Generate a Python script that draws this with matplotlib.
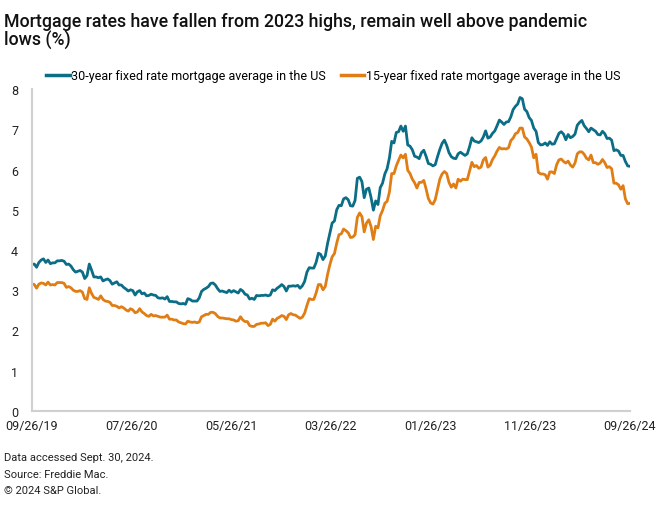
import matplotlib.pyplot as plt
import pandas as pd

# Weekly Freddie Mac averages, 09/26/19 - 09/26/24 (%)
rate_30y = [
    # 2019
    3.64, 3.65, 3.57, 3.69, 3.75, 3.78, 3.69, 3.75, 3.66, 3.68, 3.68, 3.73, 3.73, 3.74,
    # 2020
    3.72, 3.64, 3.65, 3.60, 3.51, 3.45, 3.47, 3.49, 3.45, 3.29, 3.36, 3.65, 3.50,
    3.33, 3.33, 3.31, 3.33, 3.23, 3.26, 3.28, 3.24, 3.15, 3.18, 3.21, 3.13, 3.13,
    3.07, 3.03, 2.98, 3.01, 2.99, 2.88, 2.96, 2.99, 2.91, 2.93, 2.86, 2.87, 2.90,
    2.88, 2.87, 2.81, 2.80, 2.81, 2.78, 2.84, 2.72, 2.72, 2.71, 2.71, 2.67, 2.66, 2.67,
    # 2021
    2.65, 2.79, 2.77, 2.73, 2.73, 2.73, 2.81, 2.97, 3.02, 3.05, 3.09, 3.17,
    3.18, 3.13, 3.04, 2.97, 2.98, 2.96, 2.94, 3.00, 2.95, 2.99, 2.96, 2.93, 3.02,
    2.98, 2.90, 2.88, 2.78, 2.80, 2.77, 2.87, 2.86, 2.87, 2.87, 2.88, 2.86, 2.88, 3.01,
    2.99, 3.05, 3.09, 3.14, 3.09, 2.98, 3.10, 3.10, 3.11, 3.10, 3.12, 3.05, 3.11,
    # 2022
    3.22, 3.45, 3.56, 3.55, 3.55, 3.69, 3.92, 3.89, 3.76, 3.85, 4.16, 4.42, 4.67,
    4.72, 5.00, 5.11, 5.10, 5.27, 5.30, 5.25, 5.10, 5.09, 5.23, 5.78, 5.81, 5.70,
    5.30, 5.51, 5.54, 5.30, 4.99, 5.22, 5.13, 5.55, 5.66, 5.89, 6.02, 6.29, 6.70,
    6.66, 6.92, 6.94, 7.08, 6.95, 7.08, 6.61, 6.58, 6.49, 6.33, 6.31, 6.27, 6.42,
    # 2023
    6.48, 6.33, 6.15, 6.13, 6.09, 6.12, 6.32, 6.50, 6.65, 6.73, 6.60, 6.42, 6.32,
    6.28, 6.27, 6.39, 6.43, 6.39, 6.35, 6.39, 6.57, 6.79, 6.71, 6.69, 6.67, 6.71,
    6.81, 6.96, 6.78, 6.81, 6.90, 6.96, 7.09, 7.23, 7.18, 7.12, 7.18, 7.19, 7.31,
    7.49, 7.57, 7.63, 7.79, 7.76, 7.50, 7.44, 7.29, 7.22, 7.03, 6.95, 6.67, 6.61,
    # 2024
    6.62, 6.66, 6.60, 6.69, 6.63, 6.64, 6.77, 6.90, 6.94, 6.88, 6.74, 6.87, 6.79,
    6.82, 6.88, 7.10, 7.17, 7.22, 7.09, 7.02, 6.94, 7.03, 6.99, 6.95, 6.87, 6.86,
    6.95, 6.89, 6.77, 6.78, 6.73, 6.47, 6.49, 6.46, 6.35, 6.35, 6.20, 6.09, 6.08,
]

rate_15y = [
    # 2019
    3.16, 3.14, 3.05, 3.15, 3.18, 3.17, 3.13, 3.20, 3.13, 3.14, 3.13, 3.19, 3.19, 3.19,
    # 2020
    3.17, 3.07, 3.09, 3.06, 3.00, 2.97, 2.97, 2.99, 2.95, 2.79, 2.77, 3.06, 2.92,
    2.82, 2.80, 2.77, 2.86, 2.77, 2.73, 2.72, 2.70, 2.62, 2.62, 2.60, 2.56, 2.59,
    2.56, 2.51, 2.48, 2.54, 2.51, 2.44, 2.46, 2.54, 2.46, 2.42, 2.37, 2.35, 2.40,
    2.36, 2.37, 2.35, 2.33, 2.33, 2.33, 2.38, 2.28, 2.28, 2.26, 2.26, 2.21, 2.19, 2.17,
    # 2021
    2.16, 2.23, 2.21, 2.20, 2.21, 2.19, 2.21, 2.34, 2.37, 2.40, 2.40, 2.45,
    2.45, 2.42, 2.35, 2.31, 2.31, 2.30, 2.29, 2.29, 2.27, 2.26, 2.23, 2.24, 2.34,
    2.26, 2.22, 2.22, 2.12, 2.10, 2.10, 2.15, 2.16, 2.18, 2.18, 2.19, 2.12, 2.15, 2.28,
    2.23, 2.30, 2.33, 2.37, 2.35, 2.27, 2.39, 2.42, 2.39, 2.38, 2.34, 2.30, 2.33,
    # 2022
    2.43, 2.62, 2.79, 2.77, 2.77, 2.93, 3.14, 3.14, 3.01, 3.09, 3.39, 3.63, 3.83,
    3.91, 4.17, 4.38, 4.40, 4.52, 4.48, 4.43, 4.31, 4.32, 4.38, 4.81, 4.92, 4.83,
    4.45, 4.67, 4.75, 4.58, 4.26, 4.59, 4.55, 4.85, 4.98, 5.16, 5.21, 5.44, 5.90,
    5.90, 6.09, 6.23, 6.36, 6.29, 6.38, 5.98, 5.90, 5.76, 5.67, 5.54, 5.68, 5.68,
    # 2023
    5.73, 5.52, 5.28, 5.17, 5.14, 5.25, 5.51, 5.76, 5.89, 5.95, 5.90, 5.68, 5.56,
    5.64, 5.54, 5.76, 5.71, 5.76, 5.75, 5.75, 5.97, 6.18, 6.07, 6.10, 6.03, 6.06,
    6.24, 6.30, 6.06, 6.11, 6.25, 6.34, 6.46, 6.55, 6.51, 6.52, 6.51, 6.54, 6.72,
    6.78, 6.89, 6.92, 7.03, 7.03, 6.81, 6.76, 6.67, 6.56, 6.29, 6.38, 5.93, 5.89,
    # 2024
    5.89, 5.87, 5.76, 5.94, 5.94, 5.90, 6.12, 6.24, 6.26, 6.20, 6.16, 6.21, 6.11,
    6.06, 6.16, 6.39, 6.44, 6.44, 6.38, 6.28, 6.24, 6.36, 6.17, 6.17, 6.13, 6.16,
    6.25, 6.17, 6.05, 6.07, 6.02, 5.66, 5.66, 5.62, 5.51, 5.60, 5.27, 5.15, 5.16,
]

tick_dates = ['2019-09-26', '2020-07-26', '2021-05-26', '2022-03-26',
              '2023-01-26', '2023-11-26', '2024-09-26']
tick_labels = ['09/26/19', '07/26/20', '05/26/21', '03/26/22',
               '01/26/23', '11/26/23', '09/26/24']

dates = pd.date_range('2019-09-26', periods=len(rate_30y), freq='7D')

teal = '#0b6d86'
orange = '#e07d14'
grid_grey = '#d0d0d0'

plt.rcParams['font.family'] = ['Roboto', 'DejaVu Sans']

fig = plt.figure(figsize=(6.6, 5.06), dpi=100)
ax = fig.add_axes([0.0485, 0.186, 0.906, 0.636])

ax.plot(dates, rate_30y, color=teal, linewidth=2.0,
        label='30-year fixed rate mortgage average in the US')
ax.plot(dates, rate_15y, color=orange, linewidth=2.0,
        label='15-year fixed rate mortgage average in the US')

ax.set_ylim(0, 8)
ax.set_xlim(dates[0], dates[-1])
ax.set_yticks(range(0, 9))
ax.set_xticks(pd.to_datetime(tick_dates))
ax.set_xticklabels(tick_labels)
ax.tick_params(length=0, labelsize=9, colors='#222222')
ax.tick_params(axis='y', pad=10)
ax.tick_params(axis='x', pad=6)

for s in ['top', 'right']:
    ax.spines[s].set_visible(False)
for s in ['left', 'bottom']:
    ax.spines[s].set_color(grid_grey)
    ax.spines[s].set_linewidth(1.5)

leg = ax.legend(loc='lower left', bbox_to_anchor=(0.015, 1.005), ncol=2,
                frameon=False, fontsize=9, handlelength=1.9, handletextpad=0.1,
                columnspacing=1.2, borderaxespad=0)
for line in leg.get_lines():
    line.set_linewidth(2.5)

fig.text(0.006, 0.975, 'Mortgage rates have fallen from 2023 highs, remain well above pandemic\nlows (%)',
         fontsize=12.8, va='top', ha='left', color='#111111', linespacing=1.05,
         weight='medium')

fig.text(0.006, 0.089, 'Data accessed Sept. 30, 2024.', fontsize=8, color='#222222')
fig.text(0.006, 0.056, 'Source: Freddie Mac.', fontsize=8, color='#222222')
fig.text(0.006, 0.023, '\u00a9 2024 S&P Global.', fontsize=8, color='#222222')

fig.savefig('out.png', dpi=100)
